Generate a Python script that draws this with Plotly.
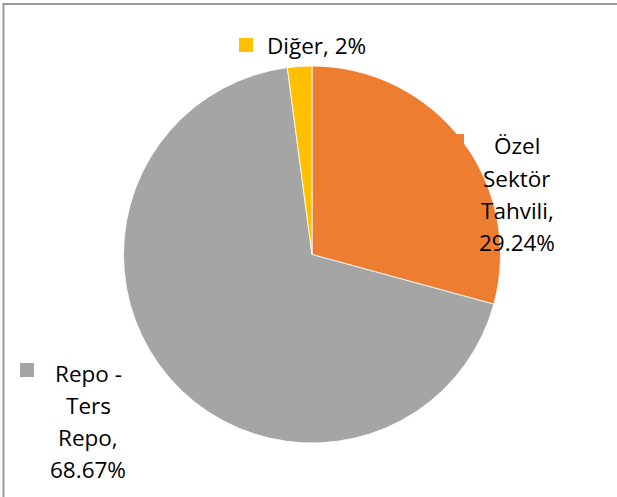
import plotly.graph_objects as go

W, H = 617, 497

categories = ["Özel Sektör Tahvili", "Repo - Ters Repo", "Diğer"]
values = [29.24, 68.67, 2.09]
value_labels = ["29.24%", "68.67%", "2%"]
colors = ["#ED7D31", "#A5A5A5", "#FFC000"]
label_lines = [
    ["Özel", "Sektör", "Tahvili,", "29.24%"],
    ["Repo -", "Ters", "Repo,", "68.67%"],
    ["Diğer, 2%"],
]

def px(x):
    return x / W

def py(y):
    return 1 - y / H

cx, cy, r = 312, 254.5, 188.5

fig = go.Figure(go.Pie(
    labels=categories,
    values=values,
    marker=dict(colors=colors, line=dict(color="white", width=0.8)),
    sort=False,
    direction="clockwise",
    rotation=0,
    textinfo="none",
    hoverinfo="label+percent",
    showlegend=False,
    domain=dict(x=[px(cx - r), px(cx + r)], y=[py(cy + r), py(cy - r)]),
))

font = dict(family="Open Sans, sans-serif", size=22.5, color="#000000")
annotations = []
shapes = []

layout_info = [
    dict(x=517, y0=146, step=32, anchor="center", sq=(451, 134, 464, 147)),
    dict(x=88, y0=373, step=32, anchor="center", sq=(20, 363, 34, 377)),
    dict(x=265, y0=46, step=32, anchor="left", sq=(239, 38, 253, 52)),
]

for lines, info, col in zip(label_lines, layout_info, colors):
    for i, line in enumerate(lines):
        annotations.append(dict(
            x=px(info["x"]), y=py(info["y0"] + i * info["step"]),
            xref="paper", yref="paper", text=line, showarrow=False,
            xanchor=info["anchor"], yanchor="middle", font=font,
        ))
    x0, y0, x1, y1 = info["sq"]
    shapes.append(dict(type="rect", xref="paper", yref="paper",
                       x0=px(x0), x1=px(x1), y0=py(y1), y1=py(y0),
                       fillcolor=col, line=dict(width=0), layer="above"))

# chart border (top and left edges visible)
border = dict(color="#9A9A9A", width=2)
shapes.append(dict(type="line", xref="paper", yref="paper",
                   x0=px(2.5), x1=1.0, y0=py(4), y1=py(4), line=border))
shapes.append(dict(type="line", xref="paper", yref="paper",
                   x0=px(3.5), x1=px(3.5), y0=0.0, y1=py(3), line=border))

fig.update_layout(
    width=W, height=H,
    margin=dict(l=0, r=0, t=0, b=0),
    paper_bgcolor="white", plot_bgcolor="white",
    annotations=annotations, shapes=shapes,
)

fig.write_html("out.html",
               config={"displayModeBar": False},
               post_script="document.body.style.margin='0';document.body.style.overflow='hidden';")
